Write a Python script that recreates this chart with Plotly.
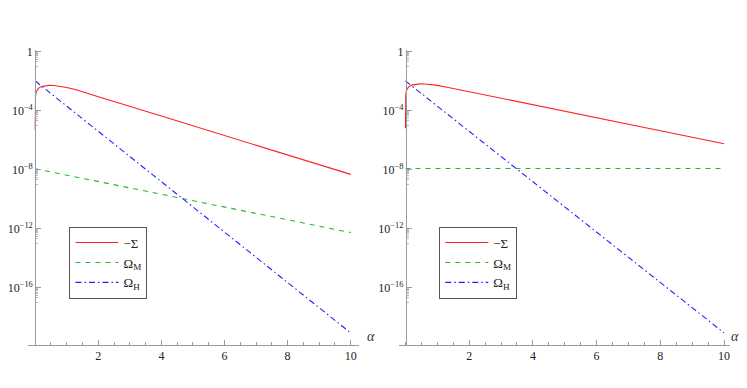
import numpy as np
import plotly.graph_objects as go

# ---- data (log10 values) ----
alpha_sigma = [0.0005, 0.002, 0.005, 0.01, 0.03, 0.06, 0.1, 0.2, 0.3, 0.45, 0.6, 0.8, 1.0, 1.3, 1.6, 2, 4, 6, 8, 10]
sigma_left_log = [-5.3, -4.2, -3.5, -3.05, -2.75, -2.6, -2.5, -2.38, -2.33, -2.3, -2.31, -2.36, -2.44, -2.6, -2.79, -3.07, -4.38, -5.69, -7.0, -8.33]
sigma_right_log = [-5.2, -4.1, -3.4, -2.95, -2.65, -2.5, -2.4, -2.28, -2.23, -2.2, -2.21, -2.24, -2.3, -2.42, -2.55, -2.73, -3.6, -4.48, -5.37, -6.25]

alpha_lin = [0.0, 2, 4, 6, 8, 10]
omega_m_left_log = [-7.95, -8.82, -9.68, -10.54, -11.4, -12.27]
omega_m_right_log = [-7.93, -7.93, -7.93, -7.93, -7.93, -7.93]
omega_h_log = [-2.0, -5.41, -8.82, -12.24, -15.65, -19.07]

x_tick_vals = [2, 4, 6, 8, 10]
y_tick_exps = [0, -4, -8, -12, -16]
y_tick_text = ["1" if e == 0 else "10<sup>\u2212%d</sup>" % (-e) for e in y_tick_exps]

names = ["\u2212\u03a3", "\u03a9<sub>M</sub>", "\u03a9<sub>H</sub>"]

# the page body has an 8px margin; the figure is sized to fill the rest of the window
OFF = 8
W, H = 747 - OFF, 388 - OFF
def fx(px):
    return (px - OFF) / W
def fy(py):
    return 1 - (py - OFF) / H

FONT = "Liberation Serif, Times New Roman, serif"
RED = "#ff2020"
GREEN = "#2cb42c"
BLUE = "#2020ff"

def p(v):
    return 10.0 ** np.array(v)

fig = go.Figure()
panels = [
    ("x", "y", "legend", sigma_left_log, omega_m_left_log),
    ("x2", "y2", "legend2", sigma_right_log, omega_m_right_log),
]
for xa, ya, lg, sig, om in panels:
    fig.add_trace(go.Scatter(x=alpha_sigma, y=p(sig), mode="lines", name=names[0],
                             line=dict(color=RED, width=1.1), xaxis=xa, yaxis=ya, legend=lg))
    fig.add_trace(go.Scatter(x=alpha_lin, y=p(om), mode="lines", name=names[1],
                             line=dict(color=GREEN, width=1.1, dash="5px,5px"), xaxis=xa, yaxis=ya, legend=lg))
    fig.add_trace(go.Scatter(x=alpha_lin, y=p(omega_h_log), mode="lines", name=names[2],
                             line=dict(color=BLUE, width=1.1, dash="6px,3px,1.5px,3px"), xaxis=xa, yaxis=ya, legend=lg))

minor_y = []
for e in y_tick_exps:
    for k in range(1, 10):
        minor_y.append(k * 10.0 ** (e - 1))

AX = "#9a9a9a"
tickfont = dict(family=FONT, size=12, color="#222")

def xaxis(domain, rng, anchor):
    return dict(domain=domain, range=rng, anchor=anchor, showline=True, linecolor=AX, linewidth=1,
                showgrid=False, zeroline=False, ticks="inside", ticklen=5, tickcolor=AX,
                tickvals=x_tick_vals, ticktext=[str(v) for v in x_tick_vals], tickfont=tickfont,
                minor=dict(dtick=0.5, tick0=0, ticks="inside", ticklen=3, tickcolor=AX, showgrid=False))

def yaxis(pos):
    return dict(type="log", domain=[fy(344), fy(45)], range=[-19.87, 0.07],
                anchor="free", position=pos,
                showline=True, linecolor=AX, linewidth=1, showgrid=False, zeroline=False,
                ticks="inside", ticklen=5, tickcolor=AX,
                tickvals=[10.0 ** e for e in y_tick_exps], ticktext=y_tick_text, tickfont=tickfont,
                minor=dict(tickvals=minor_y, ticks="inside", ticklen=2, tickcolor="#bbb", showgrid=False))

legend_style = dict(font=dict(family=FONT, size=13, color="#222"), bgcolor="white",
                    bordercolor="#555", borderwidth=1, xanchor="left", yanchor="top",
                    itemwidth=43, tracegroupgap=0)

fig.update_layout(
    width=W, height=H, margin=dict(l=0, r=0, t=0, b=0),
    paper_bgcolor="white", plot_bgcolor="white",
    xaxis=xaxis([fx(25), fx(357)], [-0.23, 10.25], "y"),
    xaxis2=xaxis([fx(398), fx(730)], [-0.19, 10.19], "y2"),
    yaxis=yaxis(fx(32.3)),
    yaxis2=yaxis(fx(404.4)),
    legend=dict(x=fx(66.7), y=fy(224), **legend_style),
    legend2=dict(x=fx(438), y=fy(224), **legend_style),
    showlegend=True,
    annotations=[
        dict(text="<i>\u03b1</i>", x=fx(369), y=fy(345), xref="paper", yref="paper",
             showarrow=False, font=dict(family=FONT, size=14, color="#333")),
        dict(text="<i>\u03b1</i>", x=fx(741), y=fy(345), xref="paper", yref="paper",
             showarrow=False, font=dict(family=FONT, size=14, color="#333")),
    ],
)

fig.write_html("out.html")
